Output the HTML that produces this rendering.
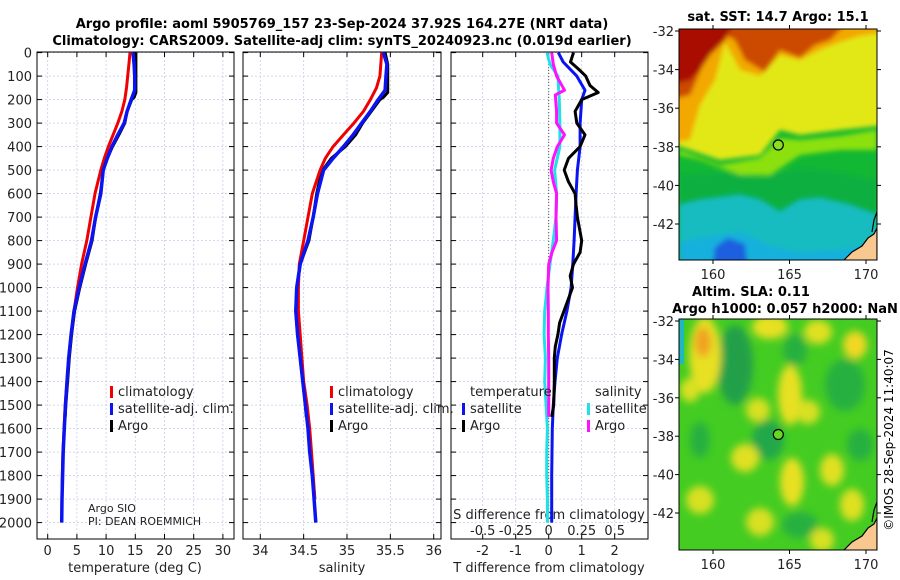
<!DOCTYPE html>
<html><head><meta charset="utf-8">
<style>
body{margin:0;background:#fff;}
svg{display:block;font-family:"DejaVu Sans","Liberation Sans",sans-serif;}
</style></head>
<body>
<svg id="c" width="900" height="580" viewBox="0 0 900 580">
<defs>
<filter id="blur" x="-50%" y="-50%" width="200%" height="200%"><feGaussianBlur stdDeviation="4"/></filter>
<filter id="blur2" x="-20%" y="-20%" width="140%" height="140%"><feGaussianBlur stdDeviation="2.5"/></filter>
<clipPath id="cp1"><rect x="37" y="52" width="197" height="487"/></clipPath>
<clipPath id="cp2"><rect x="243" y="52" width="198" height="487"/></clipPath>
<clipPath id="cp3"><rect x="451" y="52" width="197" height="487"/></clipPath>
<clipPath id="cm1"><rect x="679" y="29" width="198" height="231"/></clipPath>
<clipPath id="cm2"><rect x="679" y="319" width="198" height="231"/></clipPath>
</defs>
<g font-weight="bold" font-size="13" text-anchor="middle">
<text x="342" y="28">Argo profile: aoml 5905769_157 23-Sep-2024 37.92S 164.27E (NRT data)</text>
<text x="342" y="45">Climatology: CARS2009. Satellite-adj clim: synTS_20240923.nc (0.019d earlier)</text>
</g>

<!-- SST map -->
<g clip-path="url(#cm1)">
<rect x="679" y="29" width="198" height="231" fill="#12b834"/>
<g filter="url(#blur2)">
<polygon fill="#10b040" points="679,175 720,172 760,178 800,168 840,172 877,180 877,260 679,260"/>
<polygon fill="#12bcc0" points="679,205 700,200 740,195 760,200 780,212 800,200 820,198 850,205 877,215 877,270 679,270"/>
<polygon fill="#18b0dc" points="679,242 700,238 740,232 770,246 800,252 840,250 877,244 877,270 679,270"/>
<polygon fill="#1a60e0" points="715,247 728,238 745,244 748,270 712,270"/>
<polygon fill="#8ce010" points="679,150 720,165 760,158 780,138 800,140 840,136 877,130 877,150 840,150 800,155 770,175 740,175 700,160 679,155"/>
<polygon fill="#e2e818" points="670,20 887,20 887,125 840,130 800,135 780,130 760,155 720,160 670,143"/>
<polygon fill="#f2a800" points="670,20 887,20 887,32 860,36 840,42 820,50 800,60 780,55 760,76 740,70 725,42 715,80 700,105 690,140 670,143"/>
<polygon fill="#cc4a00" points="670,20 850,20 830,40 815,45 800,58 780,50 765,72 745,60 735,40 720,32 705,60 690,95 670,100"/>
<polygon fill="#a80c00" points="670,20 735,20 725,40 710,55 700,70 690,80 670,85"/>
</g>
<polygon fill="#f8c890" stroke="#000" stroke-width="1.2" points="842,262 852,252 862,246 868,238 874,234 877,228 877,262"/>
<path d="M872,232 L874,220 L877,212" stroke="#000" stroke-width="1.2" fill="none"/>
</g>
<rect x="679" y="29" width="198" height="231" fill="none" stroke="#000" stroke-width="1"/>
<circle cx="778.3" cy="145" r="5" fill="#88e020" stroke="#000" stroke-width="1.2"/>
<text x="778" y="21" font-size="13" font-weight="bold" text-anchor="middle">sat. SST: 14.7 Argo: 15.1</text>

<!-- SLA map -->
<g clip-path="url(#cm2)">
<rect x="679" y="319" width="198" height="231" fill="#44cc22"/>
<g filter="url(#blur)">
<ellipse cx="735" cy="365" rx="18" ry="40" fill="#22a048"/>
<ellipse cx="768" cy="440" rx="16" ry="20" fill="#22a848"/>
<ellipse cx="845" cy="385" rx="20" ry="26" fill="#28b040"/>
<ellipse cx="700" cy="440" rx="10" ry="18" fill="#28b040"/>
<ellipse cx="800" cy="525" rx="18" ry="13" fill="#28b040"/>
<ellipse cx="860" cy="445" rx="13" ry="16" fill="#28b040"/>
<ellipse cx="795" cy="350" rx="12" ry="16" fill="#28b040"/>
<ellipse cx="705" cy="355" rx="16" ry="38" fill="#e8e020"/>
<ellipse cx="703" cy="342" rx="8" ry="15" fill="#f0a020"/>
<ellipse cx="770" cy="327" rx="18" ry="12" fill="#e8e020"/>
<ellipse cx="818" cy="332" rx="14" ry="12" fill="#e0e020"/>
<ellipse cx="855" cy="345" rx="12" ry="14" fill="#f0d820"/>
<ellipse cx="790" cy="395" rx="12" ry="30" fill="#e8e020"/>
<ellipse cx="758" cy="410" rx="12" ry="12" fill="#d8e020"/>
<ellipse cx="808" cy="412" rx="12" ry="12" fill="#d8e020"/>
<ellipse cx="745" cy="458" rx="14" ry="14" fill="#e0e020"/>
<ellipse cx="792" cy="482" rx="12" ry="24" fill="#e8e020"/>
<ellipse cx="832" cy="470" rx="12" ry="16" fill="#e0e020"/>
<ellipse cx="852" cy="505" rx="12" ry="16" fill="#e0e020"/>
<ellipse cx="760" cy="522" rx="14" ry="14" fill="#d8e020"/>
<ellipse cx="822" cy="540" rx="12" ry="12" fill="#d8e020"/>
<ellipse cx="700" cy="500" rx="14" ry="14" fill="#d8e020"/>
<ellipse cx="690" cy="390" rx="10" ry="12" fill="#d8e020"/>
</g>
<rect x="679" y="319" width="5" height="45" fill="#20b8c0"/>
<polygon fill="#f8c890" stroke="#000" stroke-width="1.2" points="842,552 852,542 862,536 868,528 874,524 877,518 877,552"/>
<path d="M872,522 L874,510 L877,502" stroke="#000" stroke-width="1.2" fill="none"/>
</g>
<rect x="679" y="319" width="198" height="231" fill="none" stroke="#000" stroke-width="1"/>
<circle cx="778.3" cy="434.5" r="5" fill="#66d820" stroke="#000" stroke-width="1.2"/>
<text x="751" y="296" font-size="13" font-weight="bold" text-anchor="middle">Altim. SLA: 0.11</text>
<text x="785" y="313" font-size="13" font-weight="bold" text-anchor="middle">Argo h1000: 0.057 h2000: NaN</text>
<text transform="translate(893,440) rotate(-90)" font-size="12" text-anchor="middle">©IMOS 28-Sep-2024 11:40:07</text>
<g id="dyn"></g>
</svg>
<script>
// ---- data ----
const depthTicks = [0,100,200,300,400,500,600,700,800,900,1000,1100,1200,1300,1400,1500,1600,1700,1800,1900,2000];
const tempTicks = [0,5,10,15,20,25,30];
const salTicks = [34,34.5,35,35.5,36];
const salTickLabels = ["34","34.5","35","35.5","36"];
const dTTicks = [-2,-1,0,1,2];
const dSTicks = [-0.5,-0.25,0,0.25,0.5];
const dSTickLabels = ["-0.5","-0.25","0","0.25","0.5"];
const lonTicks = [160,165,170];
const latTicks = [-32,-34,-36,-38,-40,-42];

const climDepth = [0,50,100,150,200,250,300,350,400,450,500,600,700,800,900,1000,1100,1200,1300,1400,1500,1600,1700,1800,1900];
const climTemp = [14.1,13.9,13.7,13.5,13.2,12.7,12.0,11.2,10.4,9.7,9.1,8.1,7.4,6.7,5.8,5.1,4.5,4.0,3.6,3.3,3.0,2.8,2.6,2.5,2.45];
const climSal = [35.40,35.39,35.38,35.34,35.27,35.19,35.08,34.96,34.84,34.75,34.69,34.60,34.55,34.50,34.45,34.44,34.44,34.46,34.48,34.50,34.54,34.57,34.59,34.61,34.63];

const satDepth = [0,50,100,160,200,250,300,350,400,450,500,600,700,800,900,1000,1100,1200,1300,1400,1500,1600,1700,1800,1900,2000];
const satTemp = [14.6,14.8,14.9,14.9,14.3,13.6,13.1,12.0,11.0,10.2,9.5,9.1,8.2,7.5,6.4,5.4,4.5,4.0,3.6,3.3,3.05,2.85,2.65,2.55,2.45,2.4];
const satSal = [35.42,35.46,35.45,35.44,35.36,35.27,35.17,35.07,34.96,34.84,34.73,34.66,34.61,34.55,34.46,34.42,34.41,34.43,34.46,34.49,34.52,34.55,34.57,34.60,34.62,34.64];

const argoDepth = [0,50,100,170,190,200,250,300,350,400,450,500,550,600,700,800,900,1000,1100,1200,1300,1400,1500,1550];
const argoTemp = [15.1,15.1,15.1,15.1,14.8,14.4,13.6,13.2,12.2,11.1,10.2,9.5,9.3,9.0,8.2,7.6,6.5,5.5,4.6,4.1,3.7,3.4,3.1,3.0];
const argoSal = [35.44,35.47,35.47,35.47,35.42,35.38,35.28,35.18,35.10,34.98,34.82,34.72,34.68,34.65,34.61,34.56,34.46,34.42,34.41,34.43,34.46,34.49,34.52,34.53];

const dTSatDepth = [0,40,100,160,200,300,400,500,600,700,800,900,1000,1100,1200,1300,1400,1500,1600,1700,1800,1900,2000];
const dTSat = [0.29,0.44,0.85,1.1,1.0,0.95,0.95,0.87,0.83,0.80,0.77,0.73,0.68,0.55,0.39,0.26,0.19,0.14,0.11,0.10,0.09,0.09,0.09];
const dTArgoDepth = [0,40,70,100,140,170,200,250,300,350,400,450,500,550,600,650,700,800,850,900,950,1000,1100,1150,1200,1250,1300,1400,1500,1550];
const dTArgo = [0.75,0.66,0.9,1.12,1.25,1.5,1.0,0.8,0.85,1.1,0.95,0.6,0.47,0.6,0.8,0.83,0.87,1.0,0.95,0.75,0.65,0.72,0.46,0.33,0.28,0.2,0.17,0.17,0.15,0.09];
const dSSatDepth = [0,50,100,200,300,400,500,600,700,800,900,1000,1100,1200,1300,1400,1500,1600,1700,1800,1900,2000];
const dSSat = [-0.013,0.01,0.07,0.08,0.085,0.085,0.045,0.06,0.055,0.035,0.01,-0.013,-0.03,-0.035,-0.025,-0.03,-0.02,-0.01,-0.015,-0.015,-0.01,-0.01];
const dSArgoDepth = [0,50,100,160,180,250,300,350,400,450,500,550,600,700,800,850,900,1000,1100,1200,1300,1400,1550];
const dSArgo = [0.023,0.035,0.06,0.12,0.05,0.06,0.06,0.12,0.065,0.035,0.018,0.035,0.06,0.055,0.06,0.025,0.0,-0.005,-0.003,-0.003,0.0,0.0,0.0];

// ---- axes ----
const yD = d => 52.6 + 0.235*d;
const xT = t => 47.7 + 5.84*t;
const xS = s => 260.3 + 86.7*(s-34);
const xDT = v => 548.7 + 33*v;
const xDS = v => 548.7 + 132*v;
const lonX = l => 713 + (l-160)*15.3;
const latY1 = l => 31 + (-32-l)*19.3;
const latY2 = l => 321 + (-32-l)*19.2;

const NS = "http://www.w3.org/2000/svg";
const root = document.getElementById('dyn');
function mk(tag, attrs, parent){
  const e = document.createElementNS(NS, tag);
  for (const k in attrs) e.setAttribute(k, attrs[k]);
  (parent||root).appendChild(e);
  return e;
}
function txt(x,y,s,size,anchor,parent){
  const t = mk('text',{x:x,y:y,'font-size':size,'text-anchor':anchor||'middle',fill:'#222'},parent);
  t.textContent = s;
  return t;
}
const panels = [
  {x0:37,x1:234,name:'temperature-panel',clip:'cp1'},
  {x0:243,x1:441,name:'salinity-panel',clip:'cp2'},
  {x0:451,x1:648,name:'difference-panel',clip:'cp3'}
];
const Y0=52, Y1=539;
panels.forEach((p,i)=>{
  const g = mk('g',{});
  
  
  depthTicks.forEach(d=>{
    const y=yD(d);
    mk('line',{x1:p.x0,x2:p.x1,y1:y,y2:y,stroke:'#c8cce8','stroke-width':0.8,'stroke-dasharray':'2,2'},g);
    mk('line',{x1:p.x0,x2:p.x0+5,y1:y,y2:y,stroke:'#000'},g);
    mk('line',{x1:p.x1-5,x2:p.x1,y1:y,y2:y,stroke:'#000'},g);
  });
  let xt = i===0?tempTicks.map(xT):i===1?salTicks.map(xS):dTTicks.map(xDT);
  xt.forEach(x=>{
    mk('line',{x1:x,x2:x,y1:Y0,y2:Y1,stroke:'#c8cce8','stroke-width':0.8,'stroke-dasharray':'2,2'},g);
    mk('line',{x1:x,x2:x,y1:Y1,y2:Y1-5,stroke:'#000'},g);
    mk('line',{x1:x,x2:x,y1:Y0,y2:Y0+5,stroke:'#000'},g);
  });
  const fr = mk('rect',{x:p.x0,y:Y0,width:p.x1-p.x0,height:Y1-Y0,fill:'none',stroke:'#000','stroke-width':1},g);
  
  
});
const dl = mk('g',{});


depthTicks.forEach(d=>txt(32,yD(d)+5,String(d),13,'end',dl));
const xl = mk('g',{});


tempTicks.forEach(t=>txt(xT(t),555,String(t),13,'middle',xl));
salTicks.forEach((s,k)=>txt(xS(s),555,salTickLabels[k],13,'middle',xl));
dTTicks.forEach(v=>txt(xDT(v),555,String(v),13,'middle',xl));
dSTicks.forEach((v,k)=>txt(xDS(v),535,dSTickLabels[k],13,'middle',xl));
let t1=txt(135,572,'temperature (deg C)',13);  
let t2=txt(342,572,'salinity',13);  
let t3=txt(549,572,'T difference from climatology',13);  
let t4=txt(549,519,'S difference from climatology',13);  

const zl = mk('line',{x1:xDT(0),x2:xDT(0),y1:Y0,y2:Y1-30,stroke:'#555','stroke-width':1,'stroke-dasharray':'1,2'});



function line(xs, ds, fx, color, w, clip, name){
  const pts = xs.map((v,k)=>fx(v).toFixed(1)+','+yD(ds[k]).toFixed(1)).join(' ');
  const l = mk('polyline',{points:pts,fill:'none',stroke:color,'stroke-width':w,'stroke-linejoin':'round','clip-path':'url(#'+clip+')'});
  
  
}
line(argoTemp,argoDepth,xT,'#000',3,'cp1','argo-temperature-line');
line(climTemp,climDepth,xT,'#f00000',3,'cp1','climatology-temperature-line');
line(satTemp,satDepth,xT,'#0a14f0',3.5,'cp1','satellite-temperature-line');
line(argoSal,argoDepth,xS,'#000',3,'cp2','argo-salinity-line');
line(climSal,climDepth,xS,'#f00000',3,'cp2','climatology-salinity-line');
line(satSal,satDepth,xS,'#0a14f0',3.5,'cp2','satellite-salinity-line');
line(dSSat,dSSatDepth,xDS,'#20e0e8',3,'cp3','satellite-salinity-diff-line');
line(dSArgo,dSArgoDepth,xDS,'#ff10ff',3,'cp3','argo-salinity-diff-line');
line(dTSat,dTSatDepth,xDT,'#0a14f0',3,'cp3','satellite-temperature-diff-line');
line(dTArgo,dTArgoDepth,xDT,'#000',3,'cp3','argo-temperature-diff-line');

function legend(x,y,items,name){
  const g = mk('g',{});
  
  
  items.forEach((it,k)=>{
    if(it[1]) mk('rect',{x:x-8,y:y+k*17-10,width:3,height:12,fill:it[1]},g);
    txt(x,y+k*17,it[0],13,'start',g);
  });
}
legend(118,396,[['climatology','#f00000'],['satellite-adj. clim.','#0a14f0'],['Argo','#000']],'temperature-legend');
legend(338,396,[['climatology','#f00000'],['satellite-adj. clim.','#0a14f0'],['Argo','#000']],'salinity-legend');
legend(470,396,[['temperature',null],['satellite','#0a14f0'],['Argo','#000']],'t-diff-legend');
legend(595,396,[['salinity',null],['satellite','#20e0e8'],['Argo','#ff10ff']],'s-diff-legend');
const cr = mk('g',{});


txt(88,512,'Argo SIO',11,'start',cr);
txt(88,525,'PI: DEAN ROEMMICH',11,'start',cr);

[[latY1,29,260,275,'sst'],[latY2,319,550,565,'sla']].forEach(m=>{
  const g = mk('g',{});
  
  
  lonTicks.forEach(l=>{
    const x=lonX(l);
    mk('line',{x1:x,x2:x,y1:m[2],y2:m[2]+4,stroke:'#000'},g);
    mk('line',{x1:x,x2:x,y1:m[1],y2:m[1]-4,stroke:'#000'},g);
    txt(x,m[3]+4,String(l),13,'middle',g);
  });
  latTicks.forEach(l=>{
    const y=m[0](l);
    mk('line',{x1:675,x2:679,y1:y,y2:y,stroke:'#000'},g);
    mk('line',{x1:877,x2:881,y1:y,y2:y,stroke:'#000'},g);
    txt(674,y+5,String(l),13,'end',g);
  });
});
</script>
</body></html>
